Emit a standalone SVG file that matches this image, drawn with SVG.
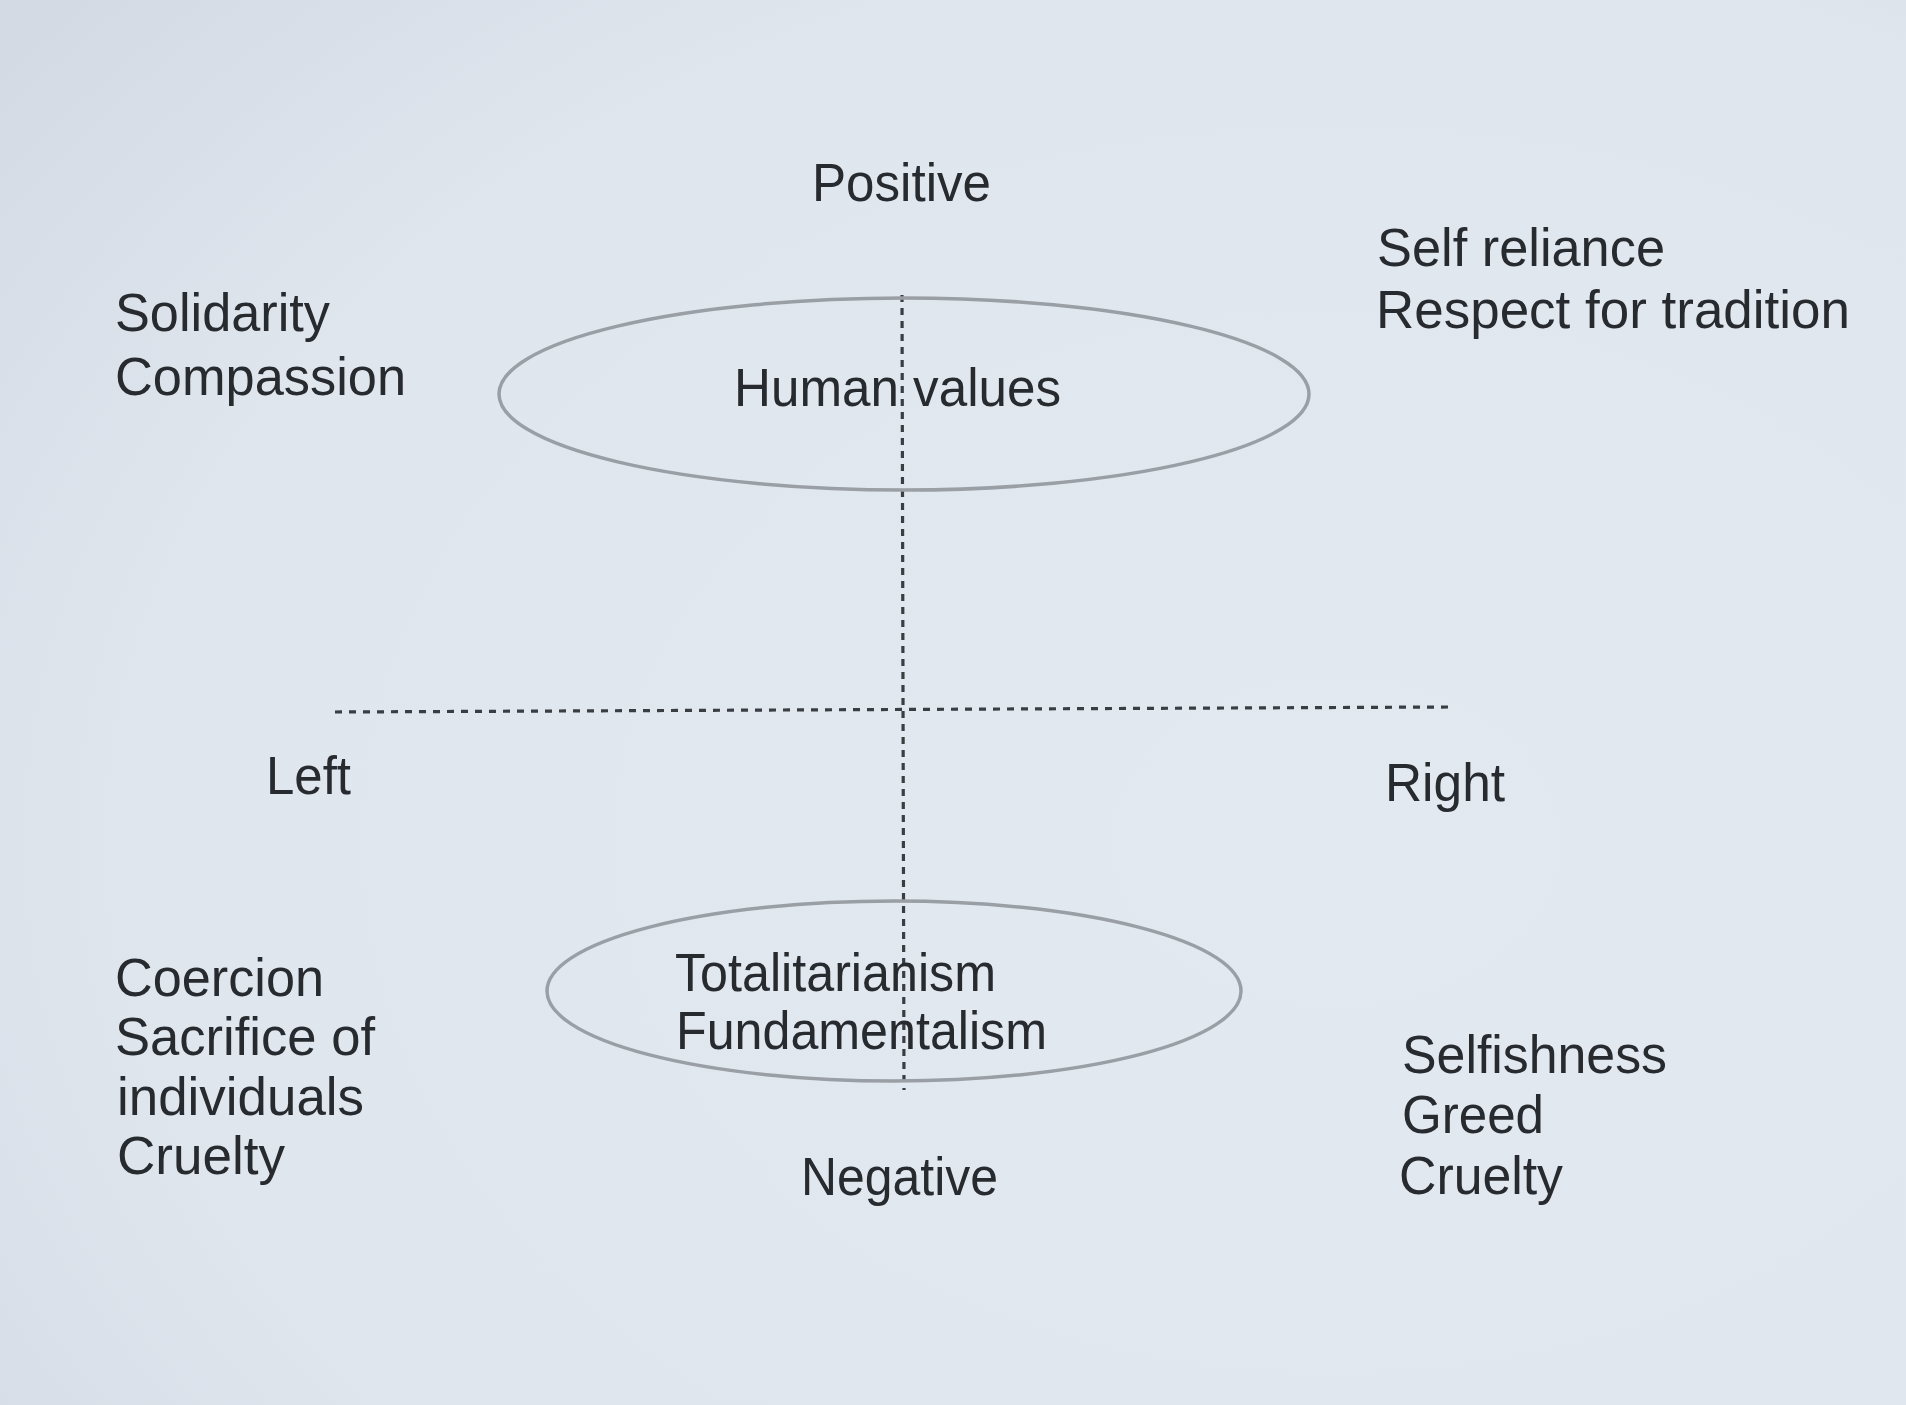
<svg xmlns="http://www.w3.org/2000/svg" width="1906" height="1405" viewBox="0 0 1906 1405">
<defs>
<radialGradient id="bg" cx="0.7" cy="0.6" r="0.9">
<stop offset="0" stop-color="#e3e9f1"/>
<stop offset="0.7" stop-color="#dfe6ee"/>
<stop offset="1" stop-color="#d3dae3"/>
</radialGradient>
<style>
text{font-family:"Liberation Sans",Arial,Helvetica,sans-serif;font-size:54px;fill:#272a2e}
.mid{text-anchor:middle}
.ell{fill:none;stroke:#9a9ea5;stroke-width:3.5}
.axis{fill:none;stroke:#3a3d42;stroke-width:3.2}
.v{stroke-dasharray:7 6}
.h{stroke-dasharray:7 7}
</style>
</defs>
<rect width="1906" height="1405" fill="url(#bg)"/>
<g id="connectors">
<line class="axis v" x1="902" y1="295" x2="904" y2="1090"/>
<line class="axis h" x1="335" y1="712" x2="1449" y2="707"/>
</g>
<g id="human-values">
<ellipse class="ell" cx="904" cy="394" rx="405" ry="96"/>
<text x="734" y="406" textLength="327" lengthAdjust="spacingAndGlyphs">Human values</text>
</g>
<g id="totalitarianism">
<ellipse class="ell" cx="894" cy="991" rx="347" ry="90"/>
<text x="675" y="991" textLength="321" lengthAdjust="spacingAndGlyphs">Totalitarianism</text>
<text x="676" y="1049" textLength="371" lengthAdjust="spacingAndGlyphs">Fundamentalism</text>
</g>
<g id="positive">
<text x="812" y="201" textLength="179" lengthAdjust="spacingAndGlyphs">Positive</text>
</g>
<g id="negative">
<text x="801" y="1195" textLength="197" lengthAdjust="spacingAndGlyphs">Negative</text>
</g>
<g id="left">
<text x="266" y="794" textLength="85" lengthAdjust="spacingAndGlyphs">Left</text>
</g>
<g id="right">
<text x="1385" y="801" textLength="120" lengthAdjust="spacingAndGlyphs">Right</text>
</g>
<g id="top-left">
<text x="115" y="331" textLength="215" lengthAdjust="spacingAndGlyphs">Solidarity</text>
<text x="115" y="395" textLength="291" lengthAdjust="spacingAndGlyphs">Compassion</text>
</g>
<g id="top-right">
<text x="1377" y="266" textLength="288" lengthAdjust="spacingAndGlyphs">Self reliance</text>
<text x="1376" y="328" textLength="474" lengthAdjust="spacingAndGlyphs">Respect for tradition</text>
</g>
<g id="bottom-left">
<text x="115" y="996" textLength="209" lengthAdjust="spacingAndGlyphs">Coercion</text>
<text x="115" y="1055" textLength="260" lengthAdjust="spacingAndGlyphs">Sacrifice of</text>
<text x="117" y="1115" textLength="247" lengthAdjust="spacingAndGlyphs">individuals</text>
<text x="117" y="1174" textLength="168" lengthAdjust="spacingAndGlyphs">Cruelty</text>
</g>
<g id="bottom-right">
<text x="1402" y="1073" textLength="265" lengthAdjust="spacingAndGlyphs">Selfishness</text>
<text x="1402" y="1133" textLength="142" lengthAdjust="spacingAndGlyphs">Greed</text>
<text x="1399" y="1194" textLength="164" lengthAdjust="spacingAndGlyphs">Cruelty</text>
</g>
</svg>
